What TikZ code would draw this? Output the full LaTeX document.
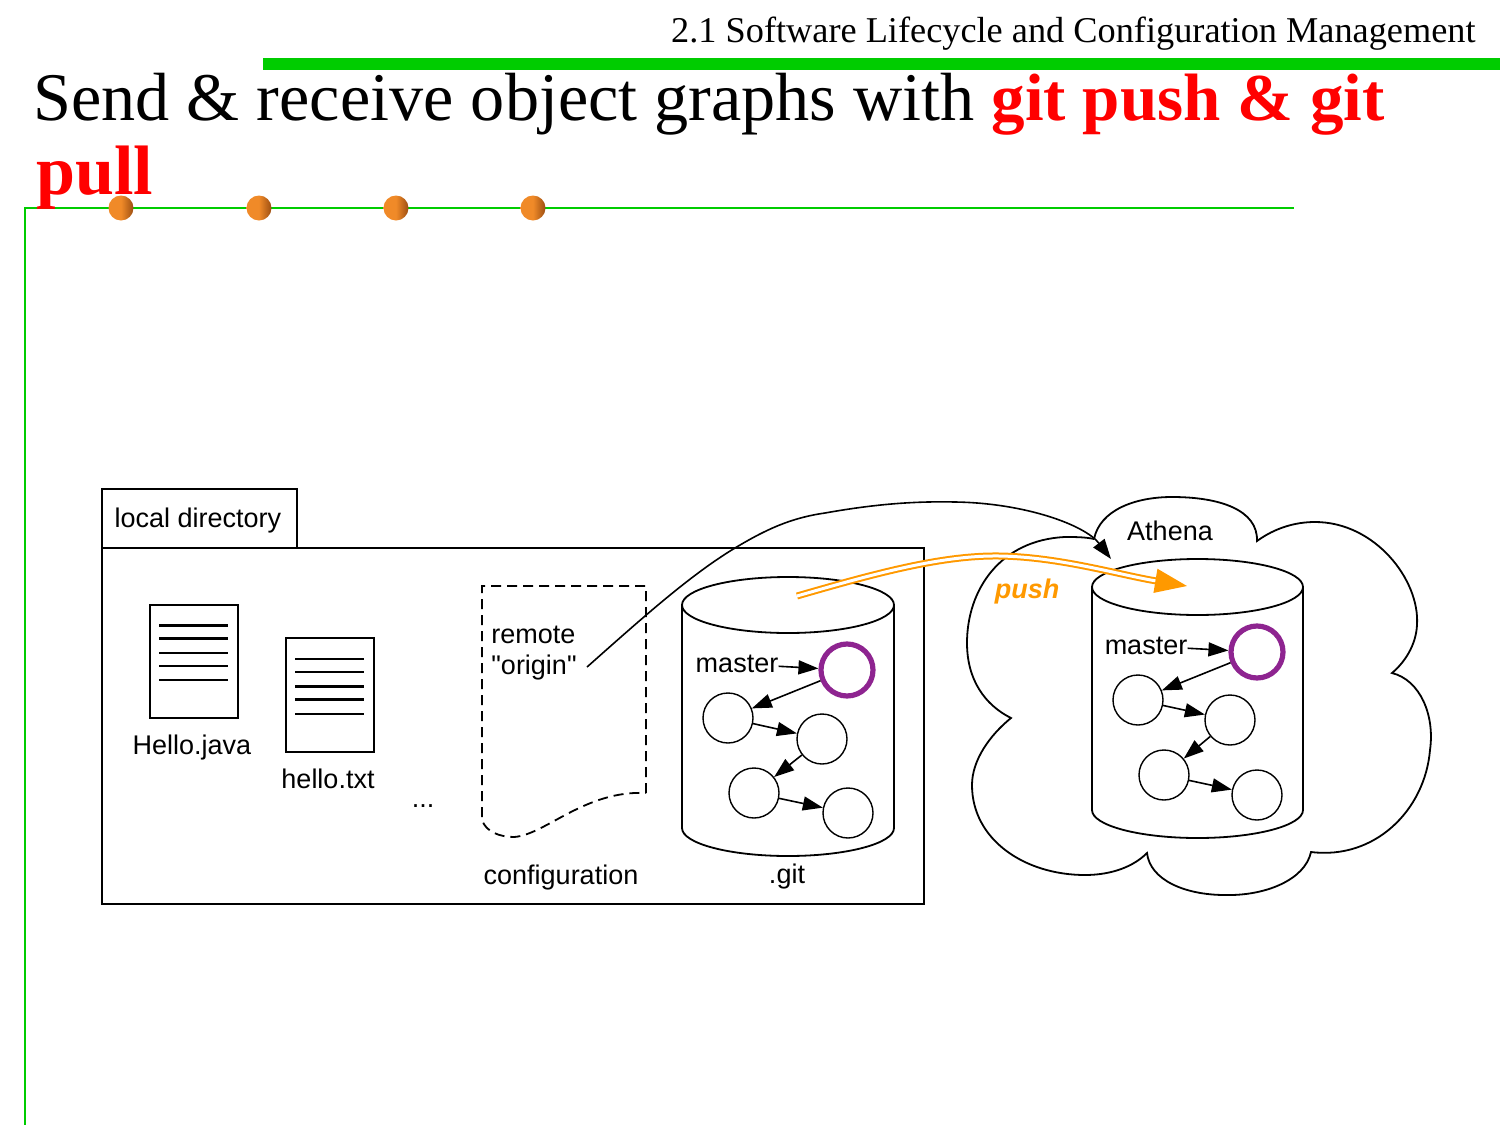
\documentclass[tikz,border=0pt]{standalone}
\usepackage{fontspec}
\setmainfont{Liberation Serif}
\setsansfont{Liberation Sans}
\usetikzlibrary{arrows.meta}
\definecolor{slidegreen}{HTML}{00CC00}
\definecolor{pushorange}{HTML}{FF9900}
\definecolor{headpurple}{HTML}{8E2490}
\definecolor{ballleft}{HTML}{F08A28}
\definecolor{ballright}{HTML}{9C4E12}
\tikzset{
  txt/.style={inner sep=0pt, font=\sffamily\fontsize{13.5}{15.5}\selectfont},
  commit/.style={circle, draw, line width=0.7pt, minimum size=25pt, inner sep=0pt},
  head/.style={circle, draw=headpurple, line width=2.6pt, minimum size=26pt, inner sep=0pt},
  ball/.style={circle, minimum size=12.5pt, inner sep=0pt, left color=ballleft, right color=ballright, middle color=ballleft},
  ref/.style={-{Triangle[length=10pt,width=7pt]}, line width=0.8pt},
  frame/.style={line width=0.9pt},
  thickrow/.style={line width=1.5pt},
  thinrow/.style={line width=0.8pt}
}
\begin{document}
\begin{tikzpicture}[x=0.5pt, y=-0.5pt]
\useasboundingbox (0,0) rectangle (1500,1125);

\fill[slidegreen] (263,58) rectangle (1500,70);
\draw[slidegreen, line width=1pt] (25,1125) -- (25,208) -- (1294,208);

\node[anchor=base east, inner sep=0pt, font=\fontsize{18.15}{20}\selectfont] (section) at (1476,42) {2.1 Software Lifecycle and Configuration Management};
\node[anchor=base west, inner sep=0pt, font=\fontsize{34.1}{38}\selectfont] (title) at (33,120) {Send \& receive object graphs with {\bfseries\fontsize{33.5}{38}\selectfont\color{red}git push \& git}};
\node[anchor=base west, inner sep=0pt, font=\bfseries\fontsize{35}{38}\selectfont, text=red] (title2) at (36,194) {pull};

\node[ball] (b1) at (121,208) {};
\node[ball] (b2) at (259,208) {};
\node[ball] (b3) at (396,208) {};
\node[ball] (b4) at (533,208) {};

\draw[frame] (102,548) rectangle (924,904);
\draw[frame] (102,548) rectangle (297,489);
\node[txt] (dir) at (198,521) {local directory};

\draw[frame] (150,605) rectangle (238,718);
\draw[thickrow] (159,625) -- (228,625);
\draw[thickrow] (159,638) -- (228,638);
\draw[thinrow] (159,653) -- (228,653);
\draw[thinrow] (159,666) -- (228,666);
\draw[thinrow] (159,680) -- (228,680);
\node[txt] (java) at (192,748) {Hello.java};

\draw[frame] (286,638) rectangle (374,752);
\draw[thinrow] (295,659) -- (364,659);
\draw[thinrow] (295,672) -- (364,672);
\draw[thickrow] (295,686) -- (364,686);
\draw[thickrow] (295,699) -- (364,699);
\draw[thinrow] (295,714) -- (364,714);
\node[txt] (txtfile) at (328,779) {hello.txt};
\node[txt] (dots) at (423,806) {...};

\draw[frame, dash pattern=on 5pt off 3pt] (646,793) -- (646,586) -- (482,586) -- (482,820)
  .. controls (486,832) and (500,837) .. (514,837)
  .. controls (545,835) and (585,790) .. (646,793);
\node[txt, anchor=base west] (remote) at (491,643) {remote};
\node[txt, anchor=base west] (origin) at (491,674) {\textquotedbl origin\textquotedbl};
\node[txt] (config) at (561,878) {configuration};

\draw[frame] (788,605) ellipse [x radius=106, y radius=28];
\draw[frame] (682,605) -- (682,828) arc [start angle=180, end angle=0, x radius=106, y radius=28] -- (894,605);
\node[txt] (git) at (787,877) {.git};

\node[txt] (master) at (737,664) {master};
\node[head] (h) at (847,670) {};
\node[commit] (c1) at (728,718) {};
\node[commit] (c2) at (822,739) {};
\node[commit] (c3) at (754,793) {};
\node[commit] (c4) at (848,813) {};
\draw (master) edge[ref] (h);
\draw (h) edge[ref] (c1);
\draw (c1) edge[ref] (c2);
\draw (c2) edge[ref] (c3);
\draw (c3) edge[ref] (c4);

\draw[frame] (1094,539)
  .. controls (1100,510) and (1135,497) .. (1172,497)
  .. controls (1220,497) and (1258,510) .. (1257,541)
  .. controls (1275,528) and (1295,522) .. (1315,522)
  .. controls (1375,522) and (1420,580) .. (1417,625)
  .. controls (1416,645) and (1405,662) .. (1392,673)
  .. controls (1420,680) and (1435,715) .. (1430,750)
  .. controls (1425,810) and (1375,860) .. (1311,852)
  .. controls (1305,880) and (1265,896) .. (1225,895)
  .. controls (1185,895) and (1150,880) .. (1147,853)
  .. controls (1130,870) and (1105,875) .. (1085,875)
  .. controls (1025,875) and (972,840) .. (972,785)
  .. controls (972,760) and (990,735) .. (1011,718)
  .. controls (985,705) and (967,680) .. (967,643)
  .. controls (967,590) and (1000,540) .. (1065,537)
  .. controls (1075,537) and (1085,537) .. (1094,539);
\node[txt] (athena) at (1170,531) {Athena};

\draw[frame] (1197.5,587) ellipse [x radius=105.5, y radius=28];
\draw[frame] (1092,587) -- (1092,810) arc [start angle=180, end angle=0, x radius=105.5, y radius=28] -- (1303,587);

\node[txt] (rmaster) at (1146,646) {master};
\node[head] (rh) at (1257,652) {};
\node[commit] (r1) at (1138,700) {};
\node[commit] (r2) at (1230,720) {};
\node[commit] (r3) at (1164,775) {};
\node[commit] (r4) at (1257,795) {};
\draw (rmaster) edge[ref] (rh);
\draw (rh) edge[ref] (r1);
\draw (r1) edge[ref] (r2);
\draw (r2) edge[ref] (r3);
\draw (r3) edge[ref] (r4);

\coordinate (remotetip) at (1111,559);
\draw[ref] ([xshift=5pt]origin.east)
  .. controls (640,620) and (690,575) .. (735,548)
  .. controls (765,530) and (790,518) .. (825,513)
  .. controls (870,505) and (910,501) .. (955,502)
  .. controls (1025,503) and (1085,525) .. (remotetip);

\coordinate (pushfrom) at (797,596);
\coordinate (pushto) at (1187,586);
\draw[pushorange, double, line width=1pt, double distance=1.5pt, -{Triangle[length=16pt,width=12pt]}] (pushfrom)
  .. controls (870,575) and (940,555) .. (1000,556)
  .. controls (1060,557) and (1120,575) .. (pushto);
\node[txt, font=\sffamily\bfseries\itshape\fontsize{13.5}{15.5}\selectfont, text=pushorange] (push) at (1027,592) {push};
\end{tikzpicture}
\end{document}
